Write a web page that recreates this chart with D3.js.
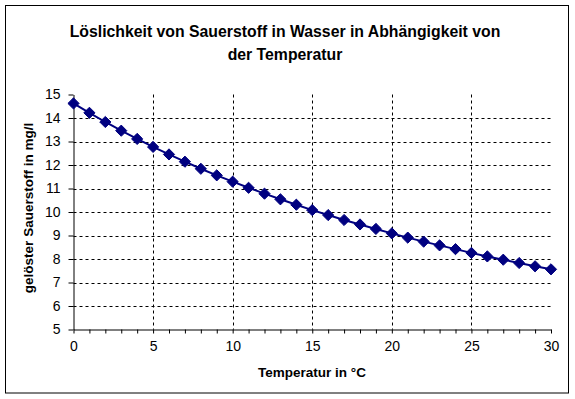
<!DOCTYPE html>
<html>
<head>
<meta charset="utf-8">
<script src="https://cdn.jsdelivr.net/npm/d3@7"></script>
<style>
  body { margin: 0; background: #fff; }
  text { font-family: "Liberation Sans", Arial, sans-serif; }
</style>
</head>
<body>
<div id="chart"></div>
<script>
// Data: temperature (°C) and dissolved oxygen (mg/l)
const temperatures = d3.range(0, 31);
const oxygen = [14.62, 14.22, 13.83, 13.46, 13.11, 12.77, 12.45, 12.14, 11.84, 11.56,
                11.29, 11.03, 10.78, 10.54, 10.31, 10.08, 9.87, 9.66, 9.47, 9.28,
                9.09, 8.91, 8.74, 8.58, 8.42, 8.26, 8.11, 7.97, 7.83, 7.69, 7.56];
const xTicks = [0, 5, 10, 15, 20, 25, 30];
const yTicks = [5, 6, 7, 8, 9, 10, 11, 12, 13, 14, 15];
const titleLines = ['Löslichkeit von Sauerstoff in Wasser in Abhängigkeit von', 'der Temperatur'];

const width = 575;
const height = 399;
const plot = { left: 73.5, right: 551, top: 94.5, bottom: 329.5 };

const svg = d3.select('#chart')
    .append('svg')
    .attr('width', width)
    .attr('height', height);

// Outer chart border
svg.append('rect')
    .attr('x', 5.5).attr('y', 5.5)
    .attr('width', 563).attr('height', 387.5)
    .attr('fill', '#fff')
    .attr('stroke', '#000')
    .attr('stroke-width', 1);

const xScale = d3.scaleLinear().domain([0, 30]).range([plot.left, plot.right]);
const yScale = d3.scaleLinear().domain([5, 15]).range([plot.bottom, plot.top]);

// Title
svg.append('text')
    .attr('x', 285).attr('y', 37)
    .attr('text-anchor', 'middle')
    .attr('font-size', 15.8).attr('font-weight', 'bold')
    .selectAll('tspan')
    .data(titleLines)
    .join('tspan')
    .attr('x', 285)
    .attr('dy', (d, i) => i === 0 ? 0 : 23)
    .text(d => d);

// Gridlines
const grid = svg.append('g').attr('stroke', '#000').attr('stroke-dasharray', '3,3');
grid.selectAll('.hgrid')
    .data(yTicks.filter(v => v > 5 && v < 15))
    .join('line')
    .attr('x1', plot.left).attr('x2', plot.right)
    .attr('y1', d => Math.round(yScale(d)) + 0.5)
    .attr('y2', d => Math.round(yScale(d)) + 0.5);
grid.selectAll('.vgrid')
    .data(xTicks.filter(v => v > 0 && v < 30))
    .join('line')
    .attr('x1', d => Math.round(xScale(d)) + 0.5)
    .attr('x2', d => Math.round(xScale(d)) + 0.5)
    .attr('y1', plot.top).attr('y2', plot.bottom);

// Axes
const xAxis = svg.append('g')
    .attr('transform', `translate(0, ${plot.bottom})`)
    .call(d3.axisBottom(xScale).tickValues(temperatures).tickSize(4).tickSizeOuter(0)
        .tickFormat(d => xTicks.includes(d) ? d : ''));
xAxis.select('.domain').attr('stroke', '#000');
xAxis.selectAll('text')
    .attr('font-size', 14).attr('font-family', '"Liberation Sans", Arial, sans-serif')
    .attr('dy', '1.05em').attr('fill', '#000');

const yAxis = svg.append('g')
    .attr('transform', `translate(${plot.left}, 0)`)
    .call(d3.axisLeft(yScale).tickValues(yTicks).tickSize(5).tickSizeOuter(0));
yAxis.select('.domain').attr('stroke', '#000');
yAxis.selectAll('text')
    .attr('font-size', 14).attr('font-family', '"Liberation Sans", Arial, sans-serif')
    .attr('x', -13).attr('fill', '#000');

// Axis titles
svg.append('text')
    .attr('x', 312).attr('y', 377)
    .attr('text-anchor', 'middle')
    .attr('font-size', 13.5).attr('font-weight', 'bold')
    .text('Temperatur in °C');

svg.append('text')
    .attr('transform', `translate(33, ${(plot.top + plot.bottom) / 2 - 4}) rotate(-90)`)
    .attr('text-anchor', 'middle')
    .attr('font-size', 13.5).attr('font-weight', 'bold')
    .text('gelöster Sauerstoff in mg/l');

// Data line
const points = temperatures.map((t, i) => [t, oxygen[i]]);
svg.append('path')
    .datum(points)
    .attr('fill', 'none')
    .attr('stroke', '#000080')
    .attr('stroke-width', 2)
    .attr('d', d3.line().x(d => xScale(d[0])).y(d => yScale(d[1])));

// Diamond markers
svg.append('g')
    .selectAll('path')
    .data(points)
    .join('path')
    .attr('transform', d => `translate(${xScale(d[0])}, ${yScale(d[1])})`)
    .attr('d', d3.symbol().type(d3.symbolDiamond2).size(80))
    .attr('fill', '#000080')
    .attr('stroke', '#000080')
    .attr('stroke-width', 1);
</script>
</body>
</html>
